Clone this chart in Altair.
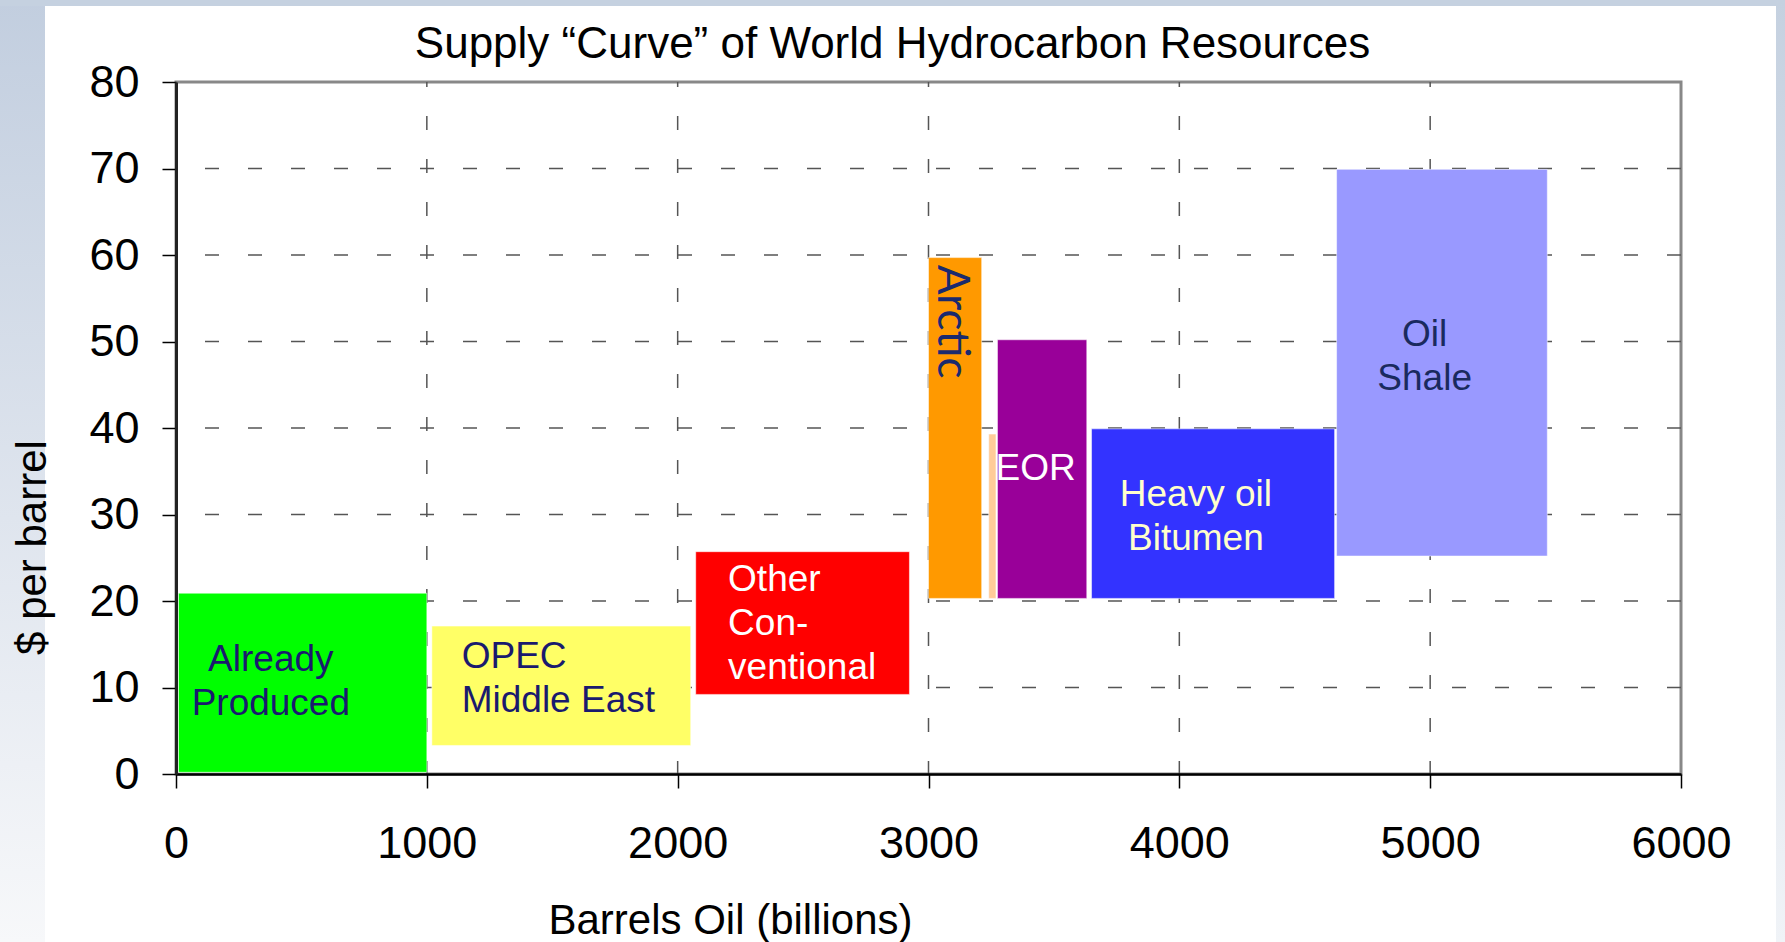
import altair as alt
import pandas as pd

# Resource blocks: cumulative volume (billion barrels) against production cost ($/bbl)
resource = ["Already Produced", "OPEC Middle East", "Other Conventional", "Arctic",
            "Arctic (minor)", "EOR", "Heavy oil Bitumen", "Oil Shale"]
volume_start = [10, 1020, 2072, 3000, 3240, 3275, 3650, 4627]
volume_end = [1000, 2052, 2924, 3212, 3269, 3631, 4619, 5467]
cost_low = [0.2, 3.3, 9.2, 20.3, 20.3, 20.3, 20.3, 25.2]
cost_high = [20.9, 17.1, 25.7, 59.7, 39.3, 50.2, 39.9, 69.9]
fill = ["#00ff00", "#ffff66", "#ff0000", "#ff9900", "#ffcc99", "#990099", "#3333ff", "#9999ff"]

# Block captions; y is the position of the first line (data units)
caption_lines = [["Already", "Produced"], ["OPEC", "Middle East"], ["Other", "Con-", "ventional"],
                 ["Arctic"], ["EOR"], ["Heavy oil", "Bitumen"], ["Oil", "Shale"]]
caption_x = [378, 1139, 2201, 3091, 3427, 4066, 4978]
caption_y = [13.2, 13.5, 22.4, 52.3, 35.3, 32.3, 50.8]
caption_color = ["#1a1a6e", "#1a1a6e", "#ffffff", "#1a2a6e", "#ffffff", "#ffffcc", "#1a2a5e"]
caption_style = ["center", "left", "left", "vertical", "center", "center", "center"]

x_ticks = [0, 1000, 2000, 3000, 4000, 5000, 6000]
y_ticks = [0, 10, 20, 30, 40, 50, 60, 70, 80]

W, H = 1505, 692
PAD = {"left": 176, "top": 82, "right": 104, "bottom": 168}

blocks = pd.DataFrame({
    "resource": resource, "x0": volume_start, "x1": volume_end,
    "y0": cost_low, "y1": cost_high, "fill": fill,
})
captions = pd.DataFrame({
    "text": caption_lines, "x": caption_x, "y": caption_y,
    "color": caption_color, "style": caption_style,
})

x_scale = alt.Scale(domain=[0, 6000], nice=False, zero=False)
y_scale = alt.Scale(domain=[0, 80], nice=False)
X_TITLE = "Barrels Oil (billions)"
Y_TITLE = "$ per barrel"

x_axis = alt.Axis(
    values=x_ticks, format="d", title=X_TITLE, grid=False, zindex=1,
    labelFont="Liberation Sans", labelFontSize=45, labelColor="black", labelPadding=33,
    tickSize=14, tickColor="black", tickWidth=1.5, domainColor="black", domainWidth=2.5,
    titleFont="Liberation Sans", titleFontSize=42, titleFontWeight="normal", titleColor="black",
    titleX=554, titleY=146, titleBaseline="middle", titleAlign="center", labelFlush=False,
)
y_axis = alt.Axis(
    values=y_ticks, format="d", title=Y_TITLE, grid=False, zindex=1,
    labelFont="Liberation Sans", labelFontSize=45, labelColor="black", labelPadding=23,
    tickSize=14, tickColor="black", tickWidth=1.5, domainColor="#222222", domainWidth=3,
    titleFont="Liberation Sans", titleFontSize=42, titleFontWeight="normal", titleColor="black",
    titleX=-144, titleY=465, titleAngle=270, titleBaseline="middle", titleAlign="center",
    labelFlush=False,
)

one = alt.Data(values=[{}])

# Slide frame: tinted strips around the white panel
left_strip = alt.Chart(one).mark_rect(
    color=alt.LinearGradient(gradient="linear", x1=0, x2=0, y1=0, y2=1, stops=[
        alt.GradientStop(color="#c2cedf", offset=0),
        alt.GradientStop(color="#dfe5ee", offset=0.55),
        alt.GradientStop(color="#f7f8fa", offset=1),
    ])
).encode(x=alt.value(-PAD["left"]), x2=alt.value(-PAD["left"] + 45),
         y=alt.value(-PAD["top"]), y2=alt.value(H + PAD["bottom"]))
top_strip = alt.Chart(one).mark_rect(color="#c5d1e0").encode(
    x=alt.value(-PAD["left"]), x2=alt.value(W + PAD["right"]),
    y=alt.value(-PAD["top"]), y2=alt.value(-PAD["top"] + 6))
right_strip = alt.Chart(one).mark_rect(
    color=alt.LinearGradient(gradient="linear", x1=0, x2=0, y1=0, y2=1, stops=[
        alt.GradientStop(color="#c5d1e0", offset=0),
        alt.GradientStop(color="#f0f3f7", offset=1),
    ])
).encode(x=alt.value(W + PAD["right"] - 9), x2=alt.value(W + PAD["right"]),
         y=alt.value(-PAD["top"]), y2=alt.value(H + PAD["bottom"]))

# Dashed grid
grid_style = dict(strokeDash=[14, 29], color="#555555", strokeWidth=1.5)
h_grid = alt.Chart(pd.DataFrame({"v": y_ticks[1:-1]})).mark_rule(**grid_style).encode(
    y=alt.Y("v:Q", scale=y_scale, title=Y_TITLE))
v_grid = alt.Chart(pd.DataFrame({"v": x_ticks[1:-1]})).mark_rule(
    strokeDashOffset=9, **grid_style).encode(
    x=alt.X("v:Q", scale=x_scale, title=X_TITLE))

bars = alt.Chart(blocks).mark_rect(stroke="white", strokeWidth=1, strokeOpacity=0.5).encode(
    x=alt.X("x0:Q", scale=x_scale, axis=x_axis),
    x2="x1:Q",
    y=alt.Y("y0:Q", scale=y_scale, axis=y_axis),
    y2="y1:Q",
    color=alt.Color("fill:N", scale=None),
)

def caption_layer(style, **mark_kw):
    return alt.Chart(captions).transform_filter(
        alt.datum.style == style
    ).mark_text(baseline="middle", lineHeight=44, **mark_kw).encode(
        x=alt.X("x:Q", scale=x_scale, title=X_TITLE),
        y=alt.Y("y:Q", scale=y_scale, title=Y_TITLE),
        text="text",
        color=alt.Color("color:N", scale=None),
    )

centered = caption_layer("center", align="center", font="Liberation Sans", fontSize=37)
left = caption_layer("left", align="left", font="Liberation Sans", fontSize=37)
vertical = caption_layer("vertical", align="center", font="Lato", fontSize=44, angle=90)

chart = alt.layer(
    left_strip, top_strip, right_strip, h_grid, v_grid, bars, centered, left, vertical
).properties(
    width=W, height=H,
    padding=PAD,
    autosize=alt.AutoSizeParams(type="none"),
    background="white",
    title=alt.TitleParams(
        "Supply \u201cCurve\u201d of World Hydrocarbon Resources",
        font="Liberation Sans", fontSize=44, fontWeight="normal", color="black",
        anchor="middle", frame="group", dx=-36, baseline="alphabetic", offset=0, dy=102,
    ),
).configure_view(stroke="#888888", strokeWidth=3)

chart.save("out.html", embed_options={"renderer": "svg", "actions": False})
